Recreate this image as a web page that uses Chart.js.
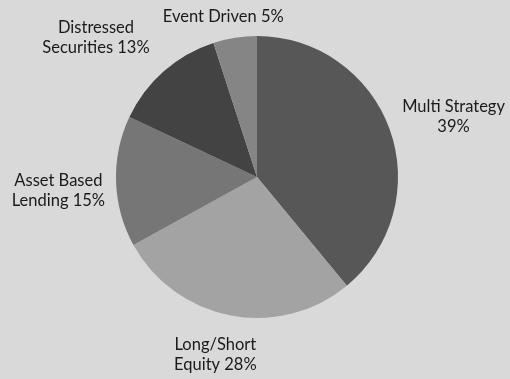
<!DOCTYPE html>
<html>
<head>
<meta charset="utf-8">
<script src="https://cdn.jsdelivr.net/npm/chart.js@4/dist/chart.umd.min.js"></script>
<style>
  html, body { margin: 0; padding: 0; background: #d9d9d9; }
  #wrap { width: 510px; height: 379px; position: relative; }
</style>
</head>
<body>
<div id="wrap"><canvas id="c" width="510" height="379"></canvas></div>
<script>
const categories = ["Multi Strategy", "Long/Short Equity", "Asset Based Lending", "Distressed Securities", "Event Driven"];
const labelLines = [["Multi Strategy", "39%"], ["Long/Short", "Equity 28%"], ["Asset Based", "Lending 15%"], ["Distressed", "Securities 13%"], ["Event Driven 5%"]];
const shares = [39, 28, 15, 13, 5];
const sliceColors = ["#575757", "#a3a3a3", "#767676", "#434343", "#858585"];
const labelNudges = [[8, -3], [-6, 12], [-3, 8], [-27, -13], [-1, -3]];

const FONT = '16.5px Lato';
const LINE_H = 20;

const outsideLabels = {
  id: 'outsideLabels',
  afterDraw(chart) {
    const ctx = chart.ctx;
    const meta = chart.getDatasetMeta(0);
    ctx.save();
    ctx.font = FONT;
    ctx.fillStyle = '#1a1a1a';
    ctx.textAlign = 'center';
    ctx.textBaseline = 'middle';
    meta.data.forEach((arc, i) => {
      const p = arc.getProps(['x', 'y', 'startAngle', 'endAngle', 'outerRadius'], true);
      const mid = (p.startAngle + p.endAngle) / 2;
      const dx = Math.cos(mid), dy = Math.sin(mid);
      const lines = labelLines[i];
      const w = Math.max(...lines.map(l => ctx.measureText(l).width));
      const h = lines.length * LINE_H;
      const r = p.outerRadius + 8;
      const cx = p.x + dx * r + dx * w / 2 + labelNudges[i][0];
      const cy = p.y + dy * r + dy * h / 2 + labelNudges[i][1];
      lines.forEach((l, k) => {
        ctx.fillText(l, cx, cy - h / 2 + LINE_H / 2 + k * LINE_H);
      });
    });
    ctx.restore();
  }
};

new Chart(document.getElementById('c'), {
  type: 'pie',
  data: {
    labels: categories,
    datasets: [{
      data: shares,
      backgroundColor: sliceColors,
      borderWidth: 0
    }]
  },
  options: {
    responsive: false,
    animation: false,
    layout: { padding: { top: 36, bottom: 61, left: 116, right: 112 } },
    plugins: {
      legend: { display: false },
      tooltip: { enabled: false }
    }
  },
  plugins: [outsideLabels]
});
</script>
</body>
</html>
